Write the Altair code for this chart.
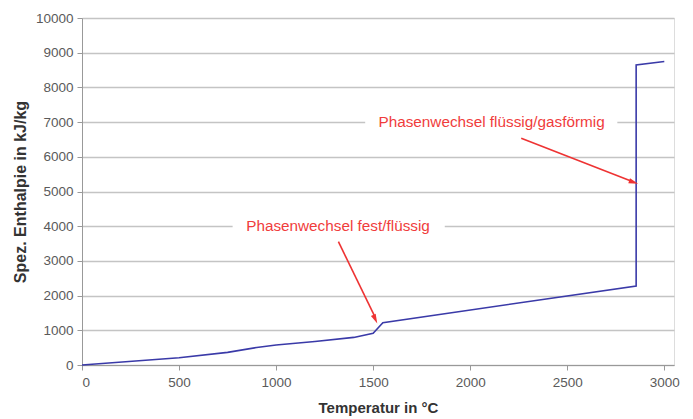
import altair as alt
import pandas as pd

# Curve data
temps = [0, 500, 750, 900, 1000, 1200, 1400, 1500, 1550, 2855, 2855, 3000]
enth = [0, 210, 365, 505, 575, 675, 795, 913, 1220, 2277, 8650, 8745]

# Annotations
label_text = ["Phasenwechsel fest/flüssig", "Phasenwechsel flüssig/gasförmig"]
label_t = [1319, 2110]
label_h = [4000, 7000]
# white boxes hiding gridlines behind labels
box_t1 = [776, 1459]
box_t2 = [1869, 2758]
box_h1 = [3880, 6880]
box_h2 = [4120, 7120]
# arrows
arrow_t1 = [1321, 2263]
arrow_h1 = [3553, 6533]
arrow_t2 = [1505, 2835]
arrow_h2 = [1440, 5290]
head_t = [1511, 2842]
head_h = [1320, 5265]
head_angle = [155, 109]

x_ticks = [0, 500, 1000, 1500, 2000, 2500, 3000]
y_ticks = [0, 1000, 2000, 3000, 4000, 5000, 6000, 7000, 8000, 9000, 10000]

curve = pd.DataFrame({"T": temps, "H": enth, "i": list(range(len(temps)))})
labels = pd.DataFrame({"T": label_t, "H": label_h, "text": label_text})
boxes = pd.DataFrame({"t1": box_t1, "t2": box_t2, "h1": box_h1, "h2": box_h2})
arrows = pd.DataFrame({"t1": arrow_t1, "h1": arrow_h1, "t2": arrow_t2, "h2": arrow_h2})
heads = pd.DataFrame({"T": head_t, "H": head_h, "angle": head_angle})

xscale = alt.Scale(domain=[0, 3050], nice=False, zero=False)
yscale = alt.Scale(domain=[0, 10000], nice=False)

xaxis = alt.Axis(values=x_ticks, title="Temperatur in °C", grid=False, format="d",
                 labelColor="#5a5a5a", labelFontSize=13.5, labelPadding=5,
                 tickColor="#999999", tickSize=5, domainColor="#999999",
                 labelOverlap=False,
                 titleFontSize=15, titleColor="#333333", titleFontWeight="bold",
                 titlePadding=12)
yaxis = alt.Axis(values=y_ticks, title="Spez. Enthalpie in kJ/kg", grid=True, format="d",
                 gridColor="#c4c4c4", gridWidth=1.3, labelOverlap=False,
                 labelColor="#5a5a5a", labelFontSize=13.5, labelPadding=4,
                 tickColor="#999999", tickSize=5, domainColor="#999999",
                 titleFontSize=16, titleColor="#333333", titleFontWeight="bold",
                 titlePadding=7)


def X(field):
    return alt.X(field, scale=xscale, axis=xaxis)


def Y(field):
    return alt.Y(field, scale=yscale, axis=yaxis)


line = alt.Chart(curve).mark_line(color="#3a3aa8", strokeWidth=1.6).encode(
    x=X("T:Q"), y=Y("H:Q"), order="i:Q",
)

box = alt.Chart(boxes).mark_rect(color="white").encode(
    x=X("t1:Q"), x2="t2", y=Y("h1:Q"), y2="h2"
)

text = alt.Chart(labels).mark_text(color="#f03c3c", fontSize=15.3, font="Liberation Sans",
                                   align="center", baseline="middle").encode(
    x=X("T:Q"), y=Y("H:Q"), text="text:N"
)

arrow = alt.Chart(arrows).mark_rule(color="#ee3333", strokeWidth=1.6).encode(
    x=X("t1:Q"), y=Y("h1:Q"), x2="t2", y2="h2"
)

head = alt.Chart(heads).mark_point(shape="M0,-1L0.55,1L-0.55,1Z", filled=True,
                                   color="#ee3333", size=90, opacity=1).encode(
    x=X("T:Q"), y=Y("H:Q"),
    angle=alt.Angle("angle:Q", scale=None)
)

chart = alt.layer(line, box, text, arrow, head).properties(
    width=592, height=347,
    autosize=alt.AutoSizeParams(type="none"),
    padding={"left": 82, "top": 18, "right": 19, "bottom": 54},
    background="white",
).configure_view(stroke="#999999", strokeWidth=1.2).configure(
    font="Liberation Sans"
)

chart.save("out.html", embed_options={"renderer": "svg", "actions": False})
